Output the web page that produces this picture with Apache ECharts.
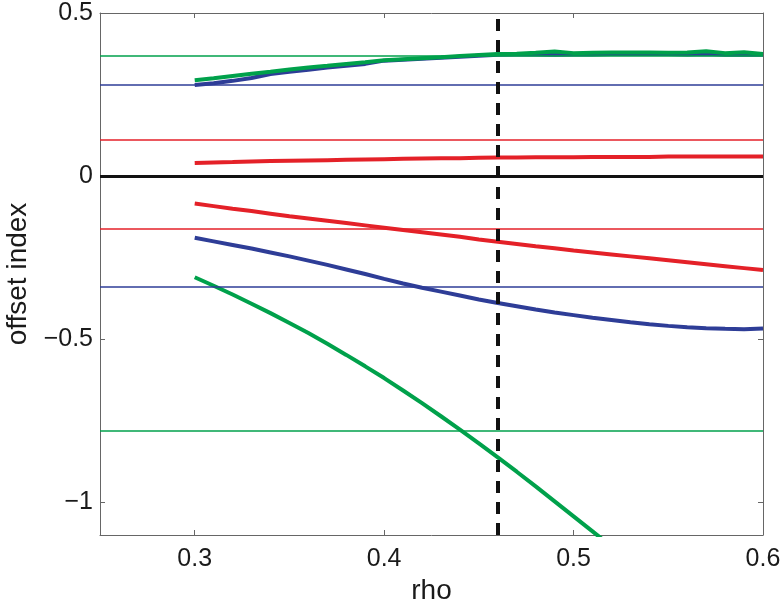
<!DOCTYPE html>
<html>
<head>
<meta charset="utf-8">
<script src="https://cdn.jsdelivr.net/npm/echarts@6/dist/echarts.min.js"></script>
<style>
  html, body { margin: 0; padding: 0; background: #fff; }
  #main { width: 782px; height: 611px; }
</style>
</head>
<body>
<div id="main"></div>
<script>
// rho samples shared by all curves
var rho = [0.30, 0.31, 0.32, 0.33, 0.34, 0.35, 0.36, 0.37, 0.38, 0.39, 0.40,
  0.41, 0.42, 0.43, 0.44, 0.45, 0.46, 0.47, 0.48, 0.49, 0.50,
  0.51, 0.52, 0.53, 0.54, 0.55, 0.56, 0.57, 0.58, 0.59, 0.60];

var greenUpper = [0.294, 0.300, 0.307, 0.314, 0.320, 0.327, 0.333, 0.338, 0.344, 0.349, 0.355,
  0.358, 0.361, 0.364, 0.368, 0.371, 0.374, 0.375, 0.378, 0.382, 0.377,
  0.378, 0.379, 0.379, 0.379, 0.378, 0.379, 0.383, 0.377, 0.380, 0.374];
var blueUpper = [0.279, 0.285, 0.292, 0.301, 0.313, 0.320, 0.326, 0.333, 0.338, 0.344, 0.354,
  0.357, 0.360, 0.363, 0.366, 0.369, 0.372, 0.373, 0.373, 0.372, 0.373,
  0.373, 0.374, 0.374, 0.374, 0.374, 0.373, 0.374, 0.372, 0.373, 0.372];
var redUpper = [0.040, 0.042, 0.043, 0.045, 0.046, 0.047, 0.048, 0.049, 0.050, 0.051, 0.052,
  0.053, 0.054, 0.055, 0.055, 0.056, 0.057, 0.057, 0.058, 0.058, 0.058,
  0.059, 0.059, 0.059, 0.059, 0.060, 0.060, 0.060, 0.060, 0.060, 0.060];
var redLower = [-0.084, -0.092, -0.100, -0.107, -0.115, -0.123, -0.130, -0.137, -0.144, -0.151, -0.158,
  -0.165, -0.172, -0.179, -0.186, -0.194, -0.201, -0.208, -0.215, -0.221, -0.228,
  -0.234, -0.240, -0.246, -0.252, -0.258, -0.264, -0.270, -0.276, -0.282, -0.288];
var blueLower = [-0.189, -0.200, -0.211, -0.222, -0.234, -0.246, -0.259, -0.272, -0.286, -0.300, -0.315,
  -0.329, -0.342, -0.354, -0.366, -0.378, -0.389, -0.399, -0.409, -0.418, -0.426,
  -0.434, -0.441, -0.448, -0.454, -0.459, -0.463, -0.466, -0.468, -0.469, -0.467];
var greenLower = [-0.310, -0.336, -0.363, -0.391, -0.420, -0.450, -0.481, -0.514, -0.548, -0.583, -0.619,
  -0.657, -0.696, -0.736, -0.777, -0.819, -0.862, -0.906, -0.951, -0.997, -1.043,
  -1.089, -1.135];

// reference levels (thin horizontal lines)
var greenLevels = [0.369, -0.783];
var blueLevels = [0.278, -0.335];
var redLevels = [0.110, -0.164];
var zeroLevel = 0;
var rhoMark = 0.46;

var xTicks = [0.3, 0.4, 0.5, 0.6];
var yTicks = [-1, -0.5, 0, 0.5];

var GREEN = "#00a14b";
var BLUE = "#2e3d97";
var RED = "#e42128";

function pairs(ys) {
  return ys.map(function (v, i) { return [rho[i], v]; });
}
function fmt(v) {
  return String(v).replace("-", "\u2212");
}

var chart = echarts.init(document.getElementById("main"));

function levelSeries(levels, color) {
  return {
    type: "line",
    data: [],
    silent: true,
    z: 1,
    markLine: {
      silent: true,
      symbol: "none",
      label: { show: false },
      animation: false,
      lineStyle: { color: color, width: 1.5, type: "solid" },
      data: levels.map(function (v) { return { yAxis: v }; }),
    },
  };
}

function curve(ys, color) {
  return {
    type: "line",
    data: pairs(ys),
    showSymbol: false,
    z: 3,
    lineStyle: { color: color, width: 4 },
    itemStyle: { color: color },
  };
}

var FONT = "Liberation Sans, Arial, sans-serif";
var tickText = { color: "#1a1a1a", fontSize: 25, fontFamily: FONT };
var nameText = { color: "#1a1a1a", fontSize: 28, fontFamily: FONT };
var frameLine = { show: true, onZero: false, lineStyle: { color: "#666", width: 1 } };

var option = {
  animation: false,
  grid: { left: 100, right: 19, top: 13, bottom: 76, outerBoundsMode: "none", containLabel: false },
  xAxis: [
    {
      type: "value", min: 0.25, max: 0.6, position: "bottom",
      name: "rho", nameLocation: "middle", nameGap: 31,
      nameTextStyle: nameText,
      axisLine: frameLine,
      axisTick: { show: true, inside: true, length: 5, customValues: xTicks, lineStyle: { color: "#666" } },
      axisLabel: Object.assign({ margin: 12, customValues: xTicks, formatter: fmt }, tickText),
      splitLine: { show: false },
    },
    {
      type: "value", min: 0.25, max: 0.6, position: "top",
      axisLine: frameLine,
      axisTick: { show: true, inside: true, length: 5, customValues: xTicks, lineStyle: { color: "#666" } },
      axisLabel: { show: false },
      splitLine: { show: false },
    },
  ],
  yAxis: [
    {
      type: "value", min: -1.1, max: 0.5, position: "left",
      name: "offset index", nameLocation: "middle", nameGap: 64,
      nameTextStyle: nameText,
      axisLine: frameLine,
      axisTick: { show: true, inside: true, length: 5, customValues: yTicks, lineStyle: { color: "#666" } },
      axisLabel: Object.assign({ margin: 7, customValues: yTicks, formatter: fmt }, tickText),
      splitLine: { show: false },
    },
    {
      type: "value", min: -1.1, max: 0.5, position: "right",
      axisLine: frameLine,
      axisTick: { show: true, inside: true, length: 5, customValues: yTicks, lineStyle: { color: "#666" } },
      axisLabel: { show: false },
      splitLine: { show: false },
    },
  ],
  series: [
    levelSeries(greenLevels, GREEN),
    levelSeries(blueLevels, BLUE),
    levelSeries(redLevels, RED),
    curve(redUpper, RED),
    curve(redLower, RED),
    curve(blueLower, BLUE),
    curve(greenLower, GREEN),
    curve(blueUpper, BLUE),
    curve(greenUpper, GREEN),
    {
      // zero line and dashed rho marker
      type: "line",
      data: [],
      silent: true,
      z: 5,
      markLine: {
        silent: true,
        symbol: "none",
        label: { show: false },
        animation: false,
        data: [
          { yAxis: zeroLevel, lineStyle: { color: "#111", width: 3, type: "solid" } },
          { xAxis: rhoMark, lineStyle: { color: "#111", width: 4, type: [12, 9] } },
        ],
      },
    },
  ],
};

chart.setOption(option);
</script>
</body>
</html>
